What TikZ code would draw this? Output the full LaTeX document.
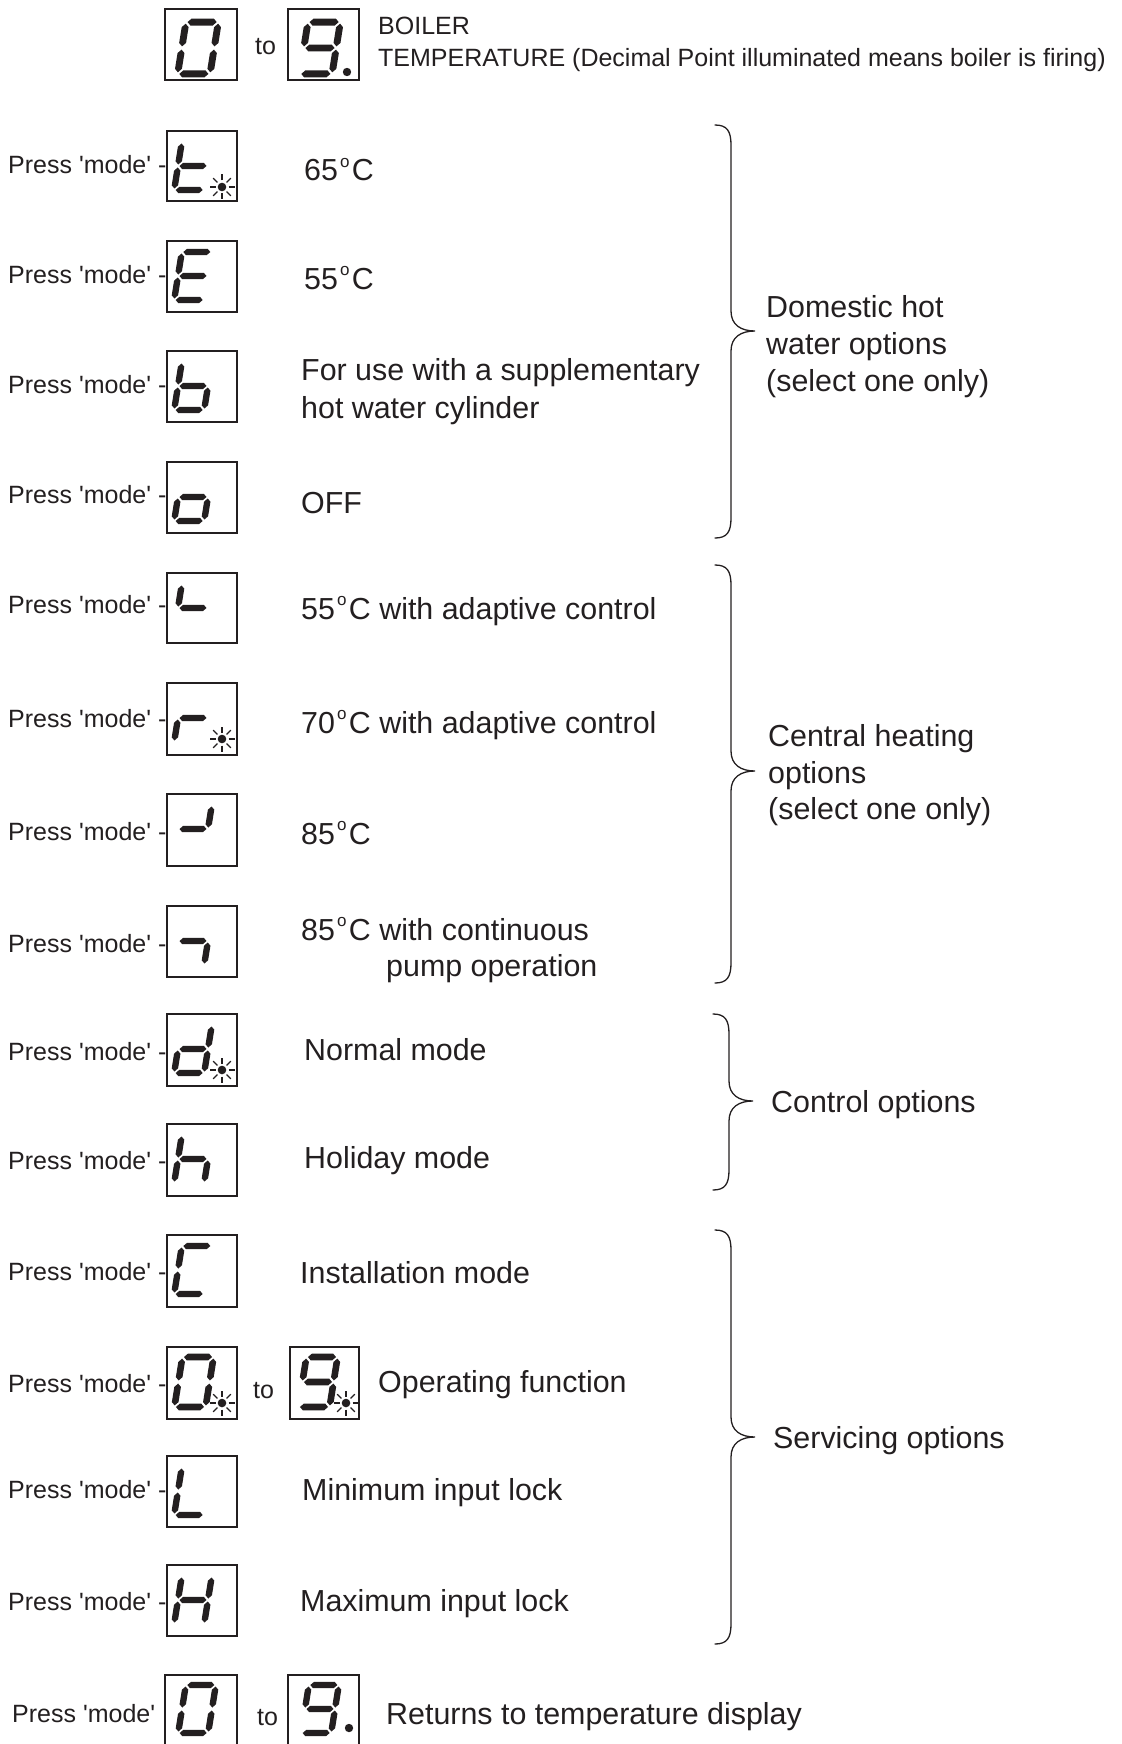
\documentclass[tikz,border=0pt]{standalone}
\usepackage{fontspec}
\setmainfont{Liberation Sans}
\definecolor{ink}{HTML}{231F20}
\newcommand\hseg[3]{\fill (#1,#3) -- (#1+3.2,#3-3.2) -- (#2-3.2,#3-3.2) -- (#2,#3) -- (#2-3.2,#3+3.2) -- (#1+3.2,#3+3.2) -- cycle;}
\newcommand\vseg[3]{\fill (#1,#2) -- (#1+3.2,#2+3.2) -- (#1+3.2,#3-3.2) -- (#1,#3) -- (#1-3.2,#3-3.2) -- (#1-3.2,#2+3.2) -- cycle;}
\newcommand\SegA{\hseg{-13.5}{13.5}{-24}}
\newcommand\SegD{\hseg{-13.5}{13.5}{24}}
\newcommand\SegG{\hseg{-13.5}{13.5}{0}}
\newcommand\SegB{\vseg{15}{-22.5}{-1.5}}
\newcommand\SegC{\vseg{15}{1.5}{22.5}}
\newcommand\SegE{\vseg{-15}{1.5}{22.5}}
\newcommand\SegF{\vseg{-15}{-22.5}{-1.5}}
\newcommand\digit[4]{%
  \begin{scope}[shift={(#1,#2)},scale=#3,xslant=0.16]
    \foreach \s in {#4}{\csname Seg\s\endcsname}
  \end{scope}}
\newcommand\sunb[2]{%
  \fill (#1,#2) circle (4.3);
  \foreach \a in {0,45,...,315}{\draw[line width=1.2pt] (#1,#2) ++(\a:6.5) -- ++(\a:6);}}
\newcommand\curly[4]{%
  \draw[bracestyle] (#1,#2) .. controls (#1+12,#2) and (#1+16,#2+6) .. (#1+16,#2+20)
    -- (#1+16,#4-20) .. controls (#1+16,#4-6) and (#1+26,#4) .. (#1+40,#4)
    .. controls (#1+26,#4) and (#1+16,#4+6) .. (#1+16,#4+20)
    -- (#1+16,#3-20) .. controls (#1+16,#3-6) and (#1+12,#3) .. (#1,#3);}
\newcommand\pressmode{Press \textquotesingle mode\textquotesingle\ -}
\newcommand\pressmodeX{Press \textquotesingle mode\textquotesingle}
\newcommand\dg{\kern2pt\raisebox{0.43em}{\fontsize{17}{17}\selectfont o}\kern2.5pt}
\tikzset{
  dbox/.style={draw, line width=1.3pt},
  small/.style={font=\fontsize{25}{30}\selectfont, inner sep=0pt, anchor=base west},
  big/.style={font=\fontsize{30.4}{36}\selectfont, inner sep=0pt, anchor=base west},
  bracestyle/.style={line width=1.3pt, line cap=round}
}
\begin{document}
\begin{tikzpicture}[x=1pt,y=-1pt,color=ink]
\useasboundingbox (0,0) rectangle (1121,1744);
% top row
\draw[dbox] (165,9) rectangle (237,80);
\digit{198}{48}{1.08}{A,B,C,D,E,F}
\node[small] (to0) at (255,55) {to};
\draw[dbox] (288,9) rectangle (359,80);
\digit{320}{48}{1.08}{A,B,C,D,F,G}
\fill (347,72) circle (4.2);
\node[small] (boiler) at (378,35) {BOILER};
\node[small] (temp) at (378,67) {TEMPERATURE (Decimal Point illuminated means boiler is firing)};
% row 1
\node[small] (p1) at (8,174) {\pressmode};
\draw[dbox] (167,131) rectangle (237,201);
\digit{193}{166}{1}{D,E,F,G}
\sunb{222}{187}
\node[big] (t1) at (304,181) {65\dg C};
% row 2
\node[small] (p2) at (8,283) {\pressmode};
\draw[dbox] (167,241) rectangle (237,312);
\digit{193}{276}{1}{A,D,E,F,G}
\node[big] (t2) at (304,289) {55\dg C};
% row 3
\node[small] (p3) at (8,393) {\pressmode};
\draw[dbox] (167,351) rectangle (237,422);
\digit{193}{386}{1}{C,D,E,F,G}
\node[big] (t3a) at (301,380) {For use with a supplementary};
\node[big] (t3b) at (301,418) {hot water cylinder};
% row 4
\node[small] (p4) at (8,503) {\pressmode};
\draw[dbox] (167,462) rectangle (237,533);
\digit{193}{497}{1}{C,D,E,G}
\node[big] (t4) at (301,513) {OFF};
% row 5
\node[small] (p5) at (8,613) {\pressmode};
\draw[dbox] (167,573) rectangle (237,643);
\digit{193}{608}{1}{F,G}
\node[big] (t5) at (301,619) {55\dg C with adaptive control};
% row 6
\node[small] (p6) at (8,727) {\pressmode};
\draw[dbox] (167,683) rectangle (237,755);
\digit{193}{718}{1}{E,G}
\sunb{222}{739}
\node[big] (t6) at (301,733) {70\dg C with adaptive control};
% row 7
\node[small] (p7) at (8,840) {\pressmode};
\draw[dbox] (167,794) rectangle (237,866);
\digit{193}{829}{1}{B,G}
\node[big] (t7) at (301,844) {85\dg C};
% row 8
\node[small] (p8) at (8,952) {\pressmode};
\draw[dbox] (167,906) rectangle (237,977);
\digit{193}{941}{1}{C,G}
\node[big] (t8a) at (301,940) {85\dg C with continuous};
\node[big] (t8b) at (386,976) {pump operation};
% row 9
\node[small] (p9) at (8,1060) {\pressmode};
\draw[dbox] (167,1014) rectangle (237,1086);
\digit{193}{1049}{1}{B,C,D,E,G}
\sunb{222}{1070}
\node[big] (t9) at (304,1060) {Normal mode};
% row 10
\node[small] (p10) at (8,1169) {\pressmode};
\draw[dbox] (167,1124) rectangle (237,1196);
\digit{193}{1159}{1}{C,E,F,G}
\node[big] (t10) at (304,1168) {Holiday mode};
% row 11
\node[small] (p11) at (8,1280) {\pressmode};
\draw[dbox] (167,1235) rectangle (237,1307);
\digit{193}{1270}{1}{A,D,E,F}
\node[big] (t11) at (300,1283) {Installation mode};
% row 12
\node[small] (p12) at (8,1392) {\pressmode};
\draw[dbox] (167,1347) rectangle (237,1419);
\digit{194}{1382}{1.04}{A,B,C,D,E,F}
\sunb{222}{1403}
\node[small] (to12) at (253,1398) {to};
\draw[dbox] (290,1347) rectangle (359,1419);
\digit{318}{1382}{1.04}{A,B,C,D,F,G}
\sunb{346}{1403}
\node[big] (t12) at (378,1392) {Operating function};
% row 13
\node[small] (p13) at (8,1498) {\pressmode};
\draw[dbox] (167,1456) rectangle (237,1527);
\digit{193}{1491}{1}{D,E,F}
\node[big] (t13) at (302,1500) {Minimum input lock};
% row 14
\node[small] (p14) at (8,1610) {\pressmode};
\draw[dbox] (167,1565) rectangle (237,1636);
\digit{193}{1600}{1}{B,C,E,F,G}
\node[big] (t14) at (300,1611) {Maximum input lock};
% final row
\node[small] (p15) at (12,1722) {\pressmodeX};
\draw[dbox] (165,1760) -- (165,1675) -- (237,1675) -- (237,1760);
\digit{197}{1709}{1.0}{A,B,C,D,E,F}
\node[small] (to15) at (257,1725) {to};
\draw[dbox] (288,1760) -- (288,1675) -- (359,1675) -- (359,1760);
\digit{320}{1709}{1.0}{A,B,C,D,F,G}
\fill (349,1728) circle (4.2);
\node[big] (t15) at (386,1724) {Returns to temperature display};
% braces
\curly{715}{125}{538}{331}
\node[big] (g1a) at (766,317) {Domestic hot};
\node[big] (g1b) at (766,354) {water options};
\node[big] (g1c) at (766,391) {(select one only)};
\curly{715}{565}{983}{771}
\node[big] (g2a) at (768,746) {Central heating};
\node[big] (g2b) at (768,783) {options};
\node[big] (g2c) at (768,819) {(select one only)};
\curly{713}{1014}{1190}{1101}
\node[big] (g3) at (771,1112) {Control options};
\curly{715}{1230}{1644}{1437}
\node[big] (g4) at (773,1448) {Servicing options};
\end{tikzpicture}
\end{document}
